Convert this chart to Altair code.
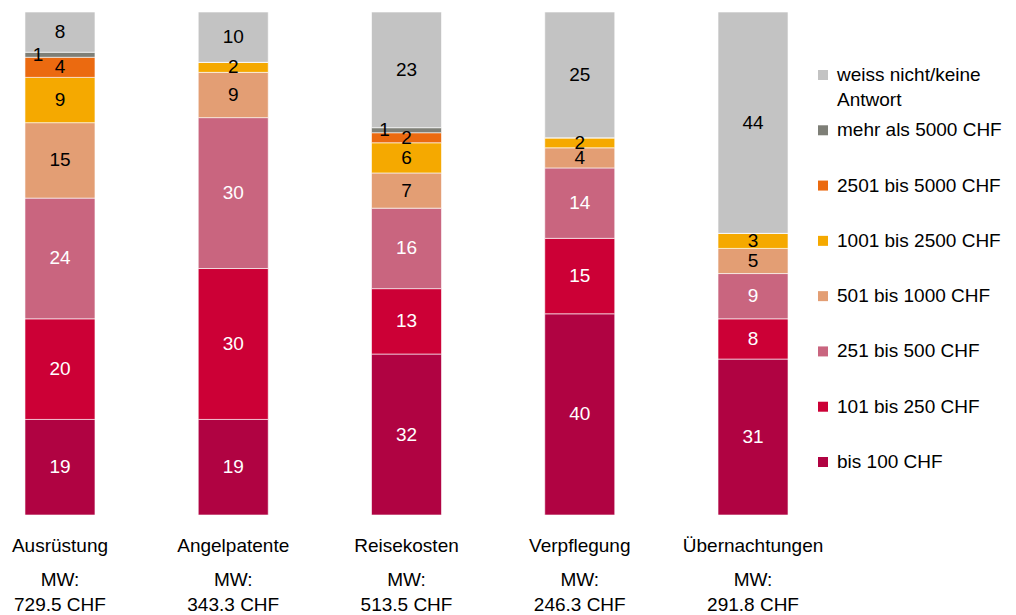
import altair as alt
import pandas as pd

categories = ["Ausrüstung", "Angelpatente", "Reisekosten", "Verpflegung", "Übernachtungen"]
mw_values = ["729.5 CHF", "343.3 CHF", "513.5 CHF", "246.3 CHF", "291.8 CHF"]

# series listed bottom-to-top in the stack
series_names = [
    "bis 100 CHF",
    "101 bis 250 CHF",
    "251 bis 500 CHF",
    "501 bis 1000 CHF",
    "1001 bis 2500 CHF",
    "2501 bis 5000 CHF",
    "mehr als 5000 CHF",
    "weiss nicht/keine Antwort",
]
s_bis100 = [19, 19, 32, 40, 31]
s_101_250 = [20, 30, 13, 15, 8]
s_251_500 = [24, 30, 16, 14, 9]
s_501_1000 = [15, 9, 7, 4, 5]
s_1001_2500 = [9, 2, 6, 2, 3]
s_2501_5000 = [4, 0, 2, 0, 0]
s_5000 = [1, 0, 1, 0, 0]
s_weiss = [8, 10, 23, 25, 44]
series_values = [s_bis100, s_101_250, s_251_500, s_501_1000, s_1001_2500, s_2501_5000, s_5000, s_weiss]
series_colors = ["#B00342", "#CC0036", "#C9657F", "#E39E74", "#F5A900", "#EB6A10", "#7E7F77", "#C3C3C3"]
white_text = ["bis 100 CHF", "101 bis 250 CHF", "251 bis 500 CHF"]

# legend rows, top to bottom (first line and optional second line)
legend_line1 = ["weiss nicht/keine", "mehr als 5000 CHF", "2501 bis 5000 CHF", "1001 bis 2500 CHF",
                "501 bis 1000 CHF", "251 bis 500 CHF", "101 bis 250 CHF", "bis 100 CHF"]
legend_line2 = ["Antwort", "", "", "", "", "", "", ""]

rows = []
for ci, cat in enumerate(categories):
    cum = 0
    for si, name in enumerate(series_names):
        v = series_values[si][ci]
        rows.append({"cat": cat, "series": name, "order": si, "val": v,
                     "y0": cum, "y1": cum + v, "mid": cum + v / 2})
        cum += v
df = pd.DataFrame(rows)

legend_order = list(reversed(series_names))
legend_colors = list(reversed(series_colors))
leg_df = pd.DataFrame({"series": legend_order, "idx": list(range(len(legend_order))),
                       "l1": legend_line1, "l2": legend_line2})

FONT = "Liberation Sans"
FS = 19

x_enc = alt.X("cat:N", sort=categories, title=None,
              scale=alt.Scale(paddingInner=0.596, paddingOuter=0.098),
              axis=alt.Axis(domain=False, ticks=False, labelAngle=0, labelFontSize=FS,
                            labelFont=FONT, labelColor="#000000", labelPadding=21))
y_scale = alt.Scale(domain=[0, 100], nice=False)
color_scale = alt.Scale(domain=legend_order, range=legend_colors)

bars = alt.Chart(df).mark_bar(stroke="white", strokeWidth=0.6).encode(
    x=x_enc,
    y=alt.Y("y1:Q", scale=y_scale, axis=None),
    y2="y0:Q",
    color=alt.Color("series:N", scale=color_scale, legend=None),
    order="order:Q",
)

text_color = alt.condition(alt.FieldOneOfPredicate(field="series", oneOf=white_text),
                           alt.value("white"), alt.value("black"))

labels = alt.Chart(df).transform_filter("datum.val >= 2").mark_text(
    fontSize=FS, font=FONT, baseline="middle").encode(
    x=alt.X("cat:N", sort=categories),
    y=alt.Y("mid:Q", scale=y_scale, axis=None),
    text="val:Q",
    color=text_color,
)
labels_small = alt.Chart(df).transform_filter("datum.val == 1").mark_text(
    fontSize=FS, font=FONT, baseline="middle", dx=-22).encode(
    x=alt.X("cat:N", sort=categories),
    y=alt.Y("mid:Q", scale=y_scale, axis=None),
    text="val:Q",
    color=alt.value("black"),
)

mw_df = pd.DataFrame({"cat": categories, "mw": mw_values})
mw1 = alt.Chart(mw_df).mark_text(fontSize=FS, font=FONT, baseline="middle", color="black").encode(
    x=alt.X("cat:N", sort=categories), y=alt.value(568), text=alt.value("MW:"))
mw2 = alt.Chart(mw_df).mark_text(fontSize=FS, font=FONT, baseline="middle", color="black").encode(
    x=alt.X("cat:N", sort=categories), y=alt.value(593), text="mw:N")

leg_y = alt.Y("idx:O", scale=alt.Scale(range=[63, 450], padding=0), axis=None)
leg_sym = alt.Chart(leg_df).mark_square(size=100, opacity=1).encode(
    x=alt.value(815), y=leg_y,
    color=alt.Color("series:N", scale=color_scale, legend=None))
leg_txt1 = alt.Chart(leg_df).mark_text(fontSize=FS, font=FONT, align="left", baseline="middle",
                                       color="black").encode(
    x=alt.value(829), y=leg_y, text="l1:N")
leg_txt2 = alt.Chart(leg_df).mark_text(
    fontSize=FS, font=FONT, align="left", baseline="middle", dy=25, color="black").encode(
    x=alt.value(829), y=leg_y, text="l2:N")

chart = alt.layer(bars, labels, labels_small, mw1, mw2, leg_sym, leg_txt1, leg_txt2).resolve_scale(
    y="independent"
).properties(
    width=797, height=503,
    autosize=alt.AutoSizeParams(type="none"),
    padding={"left": 0, "top": 4, "right": 203, "bottom": 100},
    background="white",
).configure_view(stroke=None)

chart.save("out.html", embed_options={"renderer": "svg", "actions": False})
